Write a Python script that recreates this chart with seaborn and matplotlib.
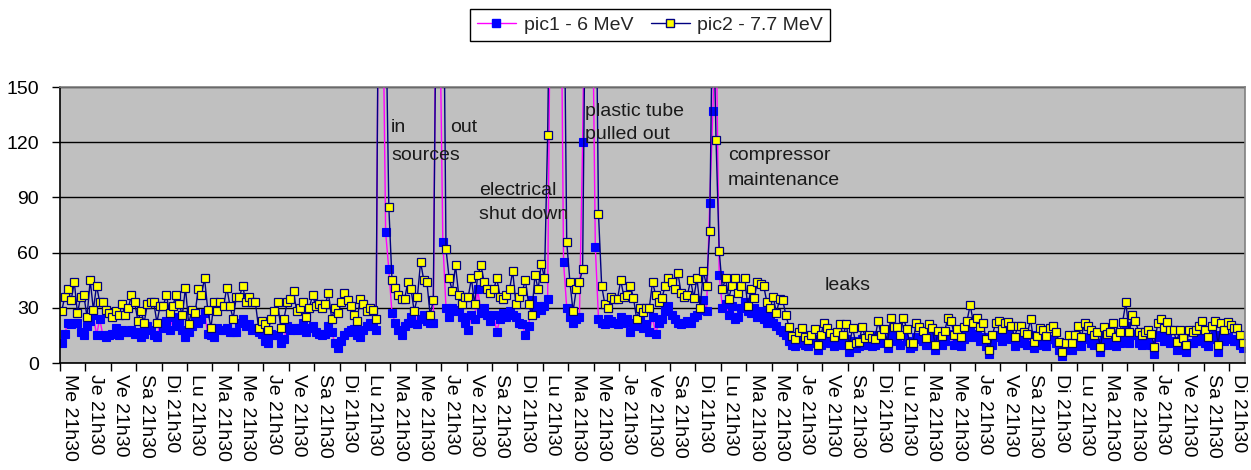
import numpy as np
import pandas as pd
import matplotlib
matplotlib.use("Agg")
import matplotlib.pyplot as plt
from matplotlib.lines import Line2D
import seaborn as sns

# ---------------- data ----------------
tick_labels = [
    "Me 21h30", "Je 21h30", "Ve 21h30", "Sa 21h30", "Di 21h30", "Lu 21h30", "Ma 21h30",
    "Me 21h30", "Je 21h30", "Ve 21h30", "Sa 21h30", "Di 21h30", "Lu 21h30", "Ma 21h30",
    "Me 21h30", "Je 21h30", "Ve 21h30", "Sa 21h30", "Di 21h30", "Lu 21h30", "Ma 21h30",
    "Me 21h30", "Je 21h30", "Ve 21h30", "Sa 21h30", "Di 21h30", "Lu 21h30", "Ma 21h30",
    "Me 21h30", "Je 21h30", "Ve 21h30", "Sa 21h30", "Di 21h30", "Lu 21h30", "Ma 21h30",
    "Me 21h30", "Je 21h30", "Ve 21h30", "Sa 21h30", "Di 21h30", "Lu 21h30", "Ma 21h30",
    "Me 21h30", "Je 21h30", "Ve 21h30", "Sa 21h30", "Di 21h30",
]

series_names = ["pic1 - 6 MeV", "pic2 - 7.7 MeV"]

pic1 = [
    11, 16, 22, 21, 22, 22, 17, 15, 20, 23,
    26, 15, 24, 15, 14, 15, 16, 19, 15, 18,
    17, 17, 18, 16, 17, 14, 16, 20, 18, 15,
    14, 22, 19, 23, 18, 25, 20, 23, 18, 14,
    17, 20, 23, 22, 24, 27, 16, 15, 14, 19,
    18, 18, 19, 17, 17, 17, 22, 24, 20, 21,
    18, 19, 17, 16, 12, 11, 16, 15, 15, 11,
    13, 20, 18, 19, 18, 19, 22, 17, 19, 20,
    17, 16, 15, 16, 20, 17, 11, 8, 12, 15,
    17, 18, 18.5, 15, 14, 18, 20, 22, 20, 18,
    280, 220, 71, 51, 27, 22, 18, 15, 20, 22,
    25, 28, 21, 24, 26, 23, 22, 22, 250, 200,
    66, 30, 25, 30, 28, 29, 25, 22, 18, 26,
    24, 40, 27, 30, 26, 23, 26, 17, 24, 27,
    25, 28, 26, 25, 22, 21, 15, 20, 34, 27,
    31, 29, 31, 35, 240, 300, 280, 260, 55, 30,
    25, 22, 24, 25, 120, 250, 300, 220, 63, 24,
    22, 21, 24, 23, 22, 21, 25, 22, 24, 17,
    22, 20, 23, 19, 21, 17, 25, 16, 22, 24,
    28, 31, 26, 24, 22, 21, 22, 23, 22, 25,
    26, 29, 34, 28, 87, 137, 190, 48, 30, 32,
    26, 31, 24, 25, 30, 33, 28, 27, 30, 25,
    28, 24, 22, 26, 22, 20, 18, 17, 15, 12,
    10, 9, 11, 12, 10, 9, 11, 13, 7, 10,
    14, 12, 11, 9, 12, 14, 10, 13, 6, 12,
    8, 9, 13, 10, 11, 9, 10, 15, 11, 12,
    8, 16, 13, 12, 10, 15, 12, 8, 9, 14,
    13, 12, 10, 14, 13, 7, 12, 10, 12, 16,
    15, 10, 12, 9, 13, 15, 19, 14, 16, 12,
    14, 9, 5, 10, 14, 15, 12, 14, 15, 13,
    9, 13, 12, 11, 10, 15, 8, 10, 12, 11,
    9, 13, 13, 11, 7, 4, 7, 10, 7, 10,
    13, 9, 14, 13, 11, 10, 11, 6, 13, 10,
    11, 14, 9, 11, 14, 20, 11, 16, 15, 11,
    10, 11, 12, 10, 5, 14, 15, 12, 14, 11,
    12, 7, 12, 9, 6, 11, 11, 12, 13, 15,
    11, 9, 13, 15, 6, 14, 12, 14, 13, 12,
    12, 10, 8,
]

pic2 = [
    28, 36, 40, 34, 44, 27, 36, 37, 25, 45,
    29, 42, 33, 33, 29, 27, 25, 28, 26, 32,
    26, 30, 37, 33, 23, 28, 22, 32, 33, 33,
    22, 31, 31, 37, 27, 31, 37, 32, 26, 41,
    21, 29, 27, 40, 37, 46, 29, 19, 33, 28,
    33, 31, 41, 31, 24, 36, 36, 42, 33, 36,
    33, 33, 19, 23, 21, 18, 24, 28, 33, 19,
    24, 33, 35, 39, 28, 30, 33, 25, 30, 37,
    31, 32, 30, 32, 38, 24, 30, 27, 33, 38,
    34, 31, 26, 23, 35, 32, 28, 30, 29, 24,
    280, 330, 200, 85, 45, 41, 37, 35, 35, 44,
    40, 28, 36, 55, 45, 44, 26, 34, 220, 310,
    260, 62, 46, 39, 53, 37, 32, 36, 36, 46,
    32, 48, 53, 44, 40, 38, 40, 46, 36, 35,
    37, 40, 50, 32, 36, 39, 45, 32, 26, 48,
    40, 54, 46, 124, 260, 320, 300, 280, 240, 66,
    44, 28, 40, 44, 51, 230, 300, 280, 250, 81,
    42, 32, 30, 36, 35, 35, 45, 36, 37, 42,
    35.5, 24, 30, 27.5, 30, 30, 44, 37, 33, 35.5,
    42, 46, 44, 40, 49, 38, 36, 37, 45, 35.5,
    46, 30, 50, 42, 72, 210, 121, 61, 40, 46,
    35, 42, 46, 38, 42, 46, 31, 40, 35.5, 44,
    43, 42, 33, 30, 36, 27, 35, 34, 26, 19.4,
    14.5, 13, 17, 19, 14, 12.5, 15, 18.5, 10, 15,
    22, 19, 16.5, 14, 17, 21, 15, 21, 10, 19,
    10.6, 11.6, 19.6, 13.6, 15, 13.6, 13, 22.8, 15, 18.5,
    11, 24.6, 19.4, 19.4, 15, 24.6, 18.5, 11, 11, 21.8,
    19.4, 17.6, 13.6, 21, 19, 9.8, 17.6, 14.5, 17.6, 24.6,
    22.8, 15, 18.5, 14, 19.4, 23, 31.5, 22, 24.6, 19.4,
    21.8, 13, 7, 15, 22, 22.6, 18.5, 22, 22.5, 20,
    14.3, 20, 20, 17, 16, 23.7, 11.6, 14.7, 19, 17.7,
    14.7, 19, 20, 17, 11.6, 6.2, 11, 15.4, 11, 15.4,
    20, 14.3, 21.8, 20, 17.7, 15, 17, 8.8, 19.6, 16,
    17, 21.8, 14.3, 17, 22.5, 33, 17, 26, 23, 17,
    15.4, 17, 18, 16, 8.8, 21.8, 23.7, 19, 22.5, 17.7,
    17.7, 11.6, 18, 13.6, 10, 18, 17, 17.7, 20, 23,
    17.7, 14.3, 20, 23, 10, 21.8, 18, 22.5, 20.6, 19,
    19, 15, 11,
]

annotations = [
    ("in", 103.5, 128),
    ("out", 122.3, 128),
    ("sources", 103.8, 113),
    ("electrical", 131.4, 94),
    ("shut down", 131.4, 80.5),
    ("plastic tube", 164.8, 136.5),
    ("pulled out", 164.8, 124),
    ("compressor", 209.8, 113),
    ("maintenance", 209.8, 99),
    ("leaks", 240.3, 42),
]

# ---------------- figure ----------------
sns.set_theme(style="white")
plt.rcParams['font.family'] = ['Liberation Sans', 'DejaVu Sans']

W, H = 1251, 470
fig = plt.figure(figsize=(W / 100, H / 100), dpi=100)
ax = fig.add_axes([60 / W, 1 - 363 / H, (1245 - 60) / W, (363 - 87) / H])
ax.set_facecolor('#C0C0C0')

n = len(pic1)
df = pd.DataFrame({"idx": np.arange(n), "pic1": pic1, "pic2": pic2})

MAG, BLUE, NAVY, YEL = '#FF00FF', '#0000FF', '#000080', '#FFFF00'

sns.lineplot(data=df, x="idx", y="pic1", ax=ax, estimator=None, sort=False,
             legend=False, color=MAG, linewidth=1.0, marker='s', markersize=5.2,
             markerfacecolor=BLUE, markeredgecolor=BLUE, markeredgewidth=0.8)
sns.lineplot(data=df, x="idx", y="pic2", ax=ax, estimator=None, sort=False,
             legend=False, color=NAVY, linewidth=1.0, marker='s', markersize=5.2,
             markerfacecolor=YEL, markeredgecolor=NAVY, markeredgewidth=0.9)

ax.set_xlim(-0.5, n - 0.5)
ax.set_ylim(0, 150)
ax.set_xlabel("")
ax.set_ylabel("")

# y axis
ax.set_yticks(np.arange(0, 151, 30))
ax.tick_params(axis='y', which='major', left=True, length=6, width=1, color='black',
               direction='out', pad=9, labelsize=14, labelcolor='black')
ax.set_axisbelow(True)
ax.grid(axis='y', which='major', color='black', linewidth=1.0)
ax.grid(axis='x', visible=False)

# x axis: tick marks between days, labels as minor ticks
ax.set_xticks(np.arange(-0.5, n, 8))
ax.set_xticklabels([])
ax.set_xticks(np.arange(len(tick_labels)) * 8 + 2.6, minor=True)
ax.set_xticklabels(tick_labels, minor=True)
ax.tick_params(axis='x', which='major', bottom=True, length=6, width=1, color='black', direction='out')
ax.tick_params(axis='x', which='minor', bottom=True, length=0, pad=8, labelsize=14,
               labelrotation=-90, labelcolor='black')

for s in ['left', 'bottom']:
    ax.spines[s].set_color('black')
    ax.spines[s].set_linewidth(1.2)
for s in ['top', 'right']:
    ax.spines[s].set_color('#808080')
    ax.spines[s].set_linewidth(1.2)

for txt, x, y in annotations:
    ax.text(x, y, txt, fontsize=14, ha='left', va='center', color='#1a1a1a')

handles = [
    Line2D([], [], color=MAG, lw=1.0, marker='s', markersize=6,
           markerfacecolor=BLUE, markeredgecolor=BLUE),
    Line2D([], [], color=NAVY, lw=1.0, marker='s', markersize=6,
           markerfacecolor=YEL, markeredgecolor=NAVY),
]
leg = fig.legend(handles, series_names, loc='center', bbox_to_anchor=(650 / W, 1 - 25 / H),
                 ncol=2, frameon=True, fancybox=False, fontsize=14, handlelength=2.0,
                 handletextpad=0.4, columnspacing=0.9, borderpad=0.35, borderaxespad=0)
leg.get_frame().set_edgecolor('black')
leg.get_frame().set_linewidth(1.0)
leg.get_frame().set_facecolor('white')
leg.get_frame().set_alpha(1)

fig.savefig("out.png", dpi=100)
